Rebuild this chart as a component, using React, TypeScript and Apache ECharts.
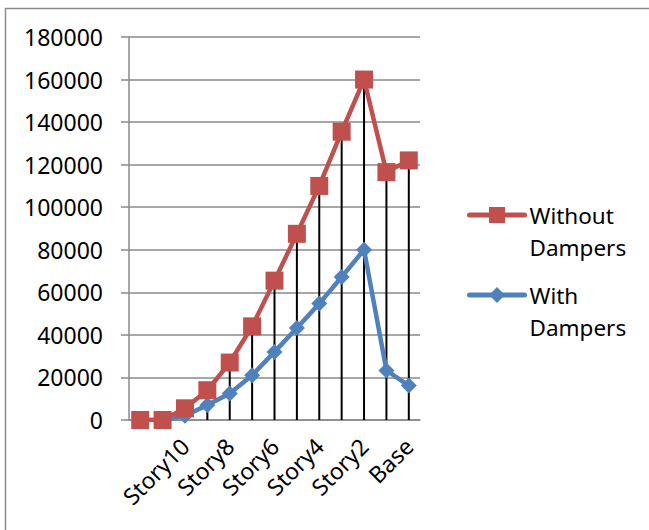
import React, { useEffect, useRef } from "react";
import * as echarts from "echarts";

const categories = [
  "Story12", "Story11", "Story10", "Story9", "Story8", "Story7", "Story6",
  "Story5", "Story4", "Story3", "Story2", "Story1", "Base",
];
const withoutDampers = [0, 0, 5500, 14000, 27000, 44000, 65500, 87500, 110000, 135500, 160000, 116500, 122000];
const withDampers = [0, 0, 2000, 7000, 12500, 21000, 32000, 43200, 54700, 67200, 80000, 23300, 16200];
const yTicks = { min: 0, max: 180000, interval: 20000 };

const FONT = "Noto Sans";
const LH = 32;

export default function App() {
  const ref = useRef<HTMLDivElement>(null);
  useEffect(() => {
    if (!ref.current) return;
    const chart = echarts.init(ref.current, null, { renderer: "svg" });
    const dropLines = categories.map((_, i) => Math.max(withoutDampers[i], withDampers[i]));
    const legendBase = {
      orient: "vertical",
      left: 467,
      padding: 0,
      itemWidth: 55,
      itemHeight: 20,
      lineStyle: { width: 5, cap: "round" },
      formatter: (name: string) => "\n" + name.replace(" ", "\n"),
      textStyle: {
        fontFamily: FONT,
        fontSize: 22.5,
        color: "#000",
        lineHeight: LH,
      },
    };
    chart.setOption({
      animation: false,
      backgroundColor: "#ffffff",
      graphic: [
        {
          type: "rect",
          shape: { x: 5.5, y: 8.5, width: 700, height: 600 },
          style: { fill: "none", stroke: "#8a8a8a", lineWidth: 1.5 },
          silent: true,
        },
      ],
      grid: { left: 129, right: 229, top: 37, bottom: 110 },
      legend: [
        { ...legendBase, data: ["Without Dampers"], top: 215 - LH * 1.5 },
        { ...legendBase, data: ["With Dampers"], top: 295 - LH * 1.5 },
      ],
      xAxis: {
        type: "category",
        data: categories,
        boundaryGap: true,
        axisLine: { lineStyle: { color: "#8a8a8a", width: 1.5 } },
        axisTick: { show: false },
        axisLabel: {
          rotate: 45,
          interval: (i: number) => i % 2 === 0 && i > 0,
          margin: 22,
          fontFamily: FONT,
          fontSize: 23,
          color: "#000",
        },
      },
      yAxis: {
        type: "value",
        min: yTicks.min,
        max: yTicks.max,
        interval: yTicks.interval,
        axisLine: { show: true, lineStyle: { color: "#8a8a8a", width: 1.5 } },
        axisTick: { show: true, length: 8, lineStyle: { color: "#8a8a8a", width: 1.5 } },
        splitLine: { lineStyle: { color: "#8a8a8a", width: 1.5 } },
        axisLabel: {
          margin: 26,
          fontFamily: FONT,
          fontSize: 23,
          color: "#000",
          formatter: (v: number) => String(v),
        },
      },
      series: [
        {
          name: "Drop lines",
          type: "bar",
          data: dropLines,
          barWidth: 2,
          itemStyle: { color: "#000" },
          z: 1,
          silent: true,
        },
        {
          name: "With Dampers",
          type: "line",
          data: withDampers,
          symbol: "diamond",
          symbolSize: 16,
          showAllSymbol: true,
          lineStyle: { color: "#4F81BD", width: 4.5 },
          itemStyle: { color: "#4F81BD" },
          z: 3,
        },
        {
          name: "Without Dampers",
          type: "line",
          data: withoutDampers,
          symbol: "rect",
          symbolSize: 18,
          showAllSymbol: true,
          lineStyle: { color: "#C0504D", width: 4.5 },
          itemStyle: { color: "#C0504D" },
          z: 4,
        },
      ],
    });
    return () => chart.dispose();
  }, []);
  return (
    <div
      ref={ref}
      style={{ position: "fixed", left: 0, top: 0, width: 649, height: 530 }}
    />
  );
}
